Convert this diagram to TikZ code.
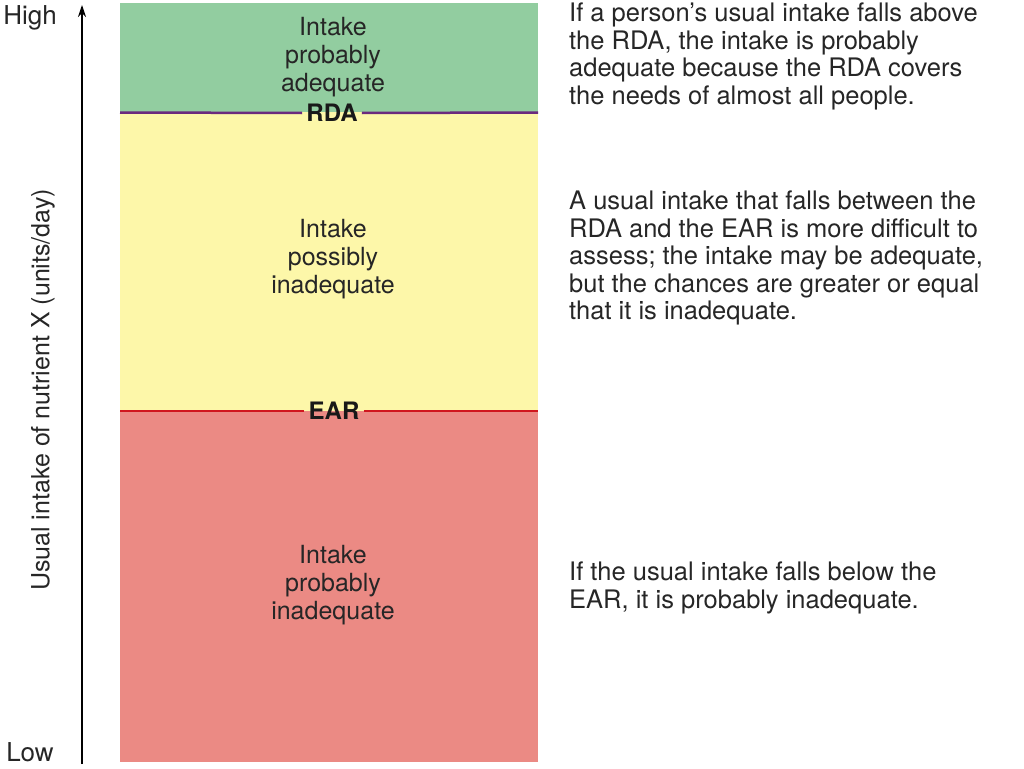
\documentclass[tikz,border=0pt]{standalone}
\usepackage{fontspec}
\setmainfont{TeX Gyre Heros}
\usetikzlibrary{arrows.meta}
\definecolor{cgreen}{HTML}{92CDA0}
\definecolor{cyellow}{HTML}{FDF7A9}
\definecolor{cred}{HTML}{EB8A84}
\definecolor{cpurple}{HTML}{6B2A7E}
\definecolor{cline}{HTML}{D0161E}
\begin{document}
\begin{tikzpicture}[x=1pt,y=-1pt,
  body/.style={font=\fontsize{25}{28}\selectfont,align=center,text=black!85},
  note/.style={font=\fontsize{25.5}{27.5}\selectfont,align=left,anchor=north west,inner sep=0pt,text=black!85},
  lbl/.style={font=\fontsize{24}{26}\selectfont\bfseries,text=black!90,inner sep=4pt}]
\useasboundingbox (0,0) rectangle (1024,768);
\fill[cgreen] (120,3) rectangle (538,112);
\fill[cyellow] (120,112) rectangle (538,411);
\fill[cred] (120,411) rectangle (538,762);
\node[lbl] (rda) at (332,113) {RDA};
\node[lbl] (ear) at (334,411) {EAR};
\draw[cpurple,line width=2.5pt] (120,112.5) -- (rda.west) (rda.east) -- (538,112.5);
\draw[cline,line width=2.5pt] (120,411) -- (ear.west) (ear.east) -- (538,411);
\node[body] (g) at (333,57) {Intake\\probably\\adequate};
\node[body] (y) at (333,259) {Intake\\possibly\\inadequate};
\node[body] (r) at (333,585) {Intake\\probably\\inadequate};
\coordinate (a0) at (82,764);
\coordinate (a1) at (82,5);
\draw[line width=1.2pt,-{Stealth[length=12pt,width=8pt]}] (a0) -- (a1);
\node[font=\fontsize{26}{28}\selectfont,text=black!85] (hi) at (30,18) {High};
\node[font=\fontsize{26}{28}\selectfont,text=black!85] (lo) at (30,752) {Low};
\node[rotate=90,font=\fontsize{25}{28}\selectfont,text=black!85] (ax) at (43,390) {Usual intake of nutrient X (units/day)};
\node[note] (n1) at (569,3) {If a person’s usual intake falls above\\the RDA, the intake is probably\\adequate because the RDA covers\\the needs of almost all people.};
\node[note] (n2) at (569,191) {A usual intake that falls between the\\RDA and the EAR is more difficult to\\assess; the intake may be adequate,\\but the chances are greater or equal\\that it is inadequate.};
\node[note] (n3) at (569,562) {If the usual intake falls below the\\EAR, it is probably inadequate.};
\end{tikzpicture}
\end{document}
